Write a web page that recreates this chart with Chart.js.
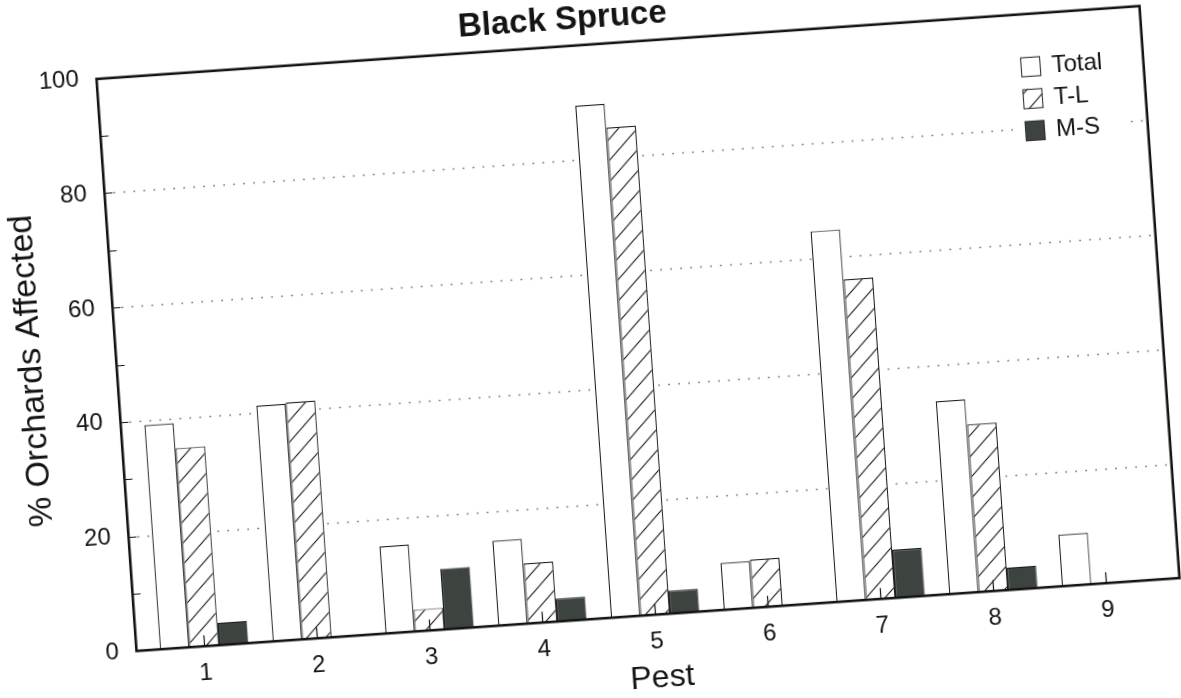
<!DOCTYPE html>
<html><head><meta charset="utf-8">
<script src="https://cdn.jsdelivr.net/npm/chart.js@4.4.0/dist/chart.umd.min.js"></script>
<style>
html,body{margin:0;padding:0;background:#fff;overflow:hidden;width:1181px;height:698px}
#wrap{position:absolute;left:0;top:0;width:1181px;height:698px;transform:rotate(-4deg);transform-origin:638px 328.5px}
canvas{display:block}
</style></head><body>
<div id="wrap"><canvas id="c" width="1181" height="698"></canvas></div>
<script>
// ---- data ----
const chartTitle = 'Black Spruce';
const xTitle = 'Pest';
const yTitle = '% Orchards Affected';
const pests = [1, 2, 3, 4, 5, 6, 7, 8, 9];
const seriesNames = ['Total', 'T-L', 'M-S'];
const totalValues = [39.2, 41.2, 15.2, 14.8, 89.5, 8.2, 64.8, 33.7, 9.0];
const tlValues    = [34.8, 41.4, 3.8, 10.5, 85.3, 8.4, 56.0, 29.3, 0];
const msValues    = [3.9, 0, 10.6, 4.0, 4.0, 0, 8.4, 3.9, 0];
const yTickLabels = [0, 20, 40, 60, 80, 100];
const yMinorTicks = [0, 10, 20, 30, 40, 50, 60, 70, 80, 90, 100];

const FONT = "'Liberation Sans', Arial, Helvetica, sans-serif";
const INK = '#141414';
const canvas = document.getElementById('c');
const ctx0 = canvas.getContext('2d');

function makeHatch() {
  const s = 20, c = document.createElement('canvas');
  c.width = c.height = s;
  const g = c.getContext('2d');
  g.fillStyle = '#ffffff'; g.fillRect(0, 0, s, s);
  g.strokeStyle = '#1c1c1c'; g.lineWidth = 1.15;
  g.beginPath();
  g.moveTo(-2, s + 2); g.lineTo(s + 2, -2);
  g.moveTo(-2, 2); g.lineTo(2, -2);
  g.moveTo(s - 2, s + 2); g.lineTo(s + 2, s - 2);
  g.stroke();
  return ctx0.createPattern(c, 'repeat');
}
const hatch = makeHatch();
const toPoints = vals => vals.map((v, i) => ({ x: pests[i], y: v }));

const framePlugin = {
  id: 'frame',
  beforeDatasetsDraw(chart) {
    const { ctx, chartArea: a, scales: { y } } = chart;
    ctx.save();
    ctx.strokeStyle = '#7c7c7c'; ctx.lineWidth = 1.5; ctx.setLineDash([1.8, 8.2]);
    yTickLabels.forEach(v => {
      if (v <= y.min || v >= y.max) return;
      const py = Math.round(y.getPixelForValue(v)) + 0.5;
      ctx.beginPath(); ctx.moveTo(a.left + 9, py); ctx.lineTo(a.right, py); ctx.stroke();
    });
    ctx.restore();
  },
  afterDatasetsDraw(chart) {
    const { ctx, chartArea: a, scales: { x, y } } = chart;
    ctx.save();
    ctx.setLineDash([]);
    ctx.strokeStyle = INK; ctx.lineWidth = 1.2;
    ctx.beginPath();
    yMinorTicks.forEach(v => {
      const py = Math.round(y.getPixelForValue(v)) + 0.5;
      ctx.moveTo(a.left, py); ctx.lineTo(a.left + 8, py);
    });
    pests.forEach(p => {
      const px = Math.round(x.getPixelForValue(p)) + 0.5;
      ctx.moveTo(px, a.bottom); ctx.lineTo(px, a.bottom - 11);
    });
    ctx.stroke();

    // legend
    const lx = a.right - 122.75, ly = a.top + 43, row = 32, box = 20;
    ctx.fillStyle = '#ffffff';
    ctx.fillRect(lx - 12, ly - 8, a.right - 18 - (lx - 12), row * 2 + box + 16);
    ctx.font = '24px ' + FONT;
    ctx.textBaseline = 'middle'; ctx.textAlign = 'left';
    chart.data.datasets.forEach((ds, i) => {
      const by = ly + i * row;
      ctx.fillStyle = ds.backgroundColor;
      ctx.fillRect(lx, by, box, box);
      ctx.strokeStyle = '#333'; ctx.lineWidth = 1.1;
      ctx.strokeRect(lx + 0.5, by + 0.5, box - 1, box - 1);
      ctx.fillStyle = INK;
      ctx.fillText(ds.label, lx + box + 11, by + box / 2 + 1);
    });

    // frame
    ctx.strokeStyle = INK; ctx.lineWidth = 2.6;
    ctx.strokeRect(a.left, a.top, a.right - a.left, a.bottom - a.top);
    ctx.restore();
  }
};

new Chart(canvas, {
  type: 'bar',
  data: {
    datasets: [
      { label: seriesNames[0], data: toPoints(totalValues), backgroundColor: '#ffffff', borderColor: '#1c1c1c', borderWidth: 1.2 },
      { label: seriesNames[1], data: toPoints(tlValues), backgroundColor: hatch, borderColor: '#1c1c1c', borderWidth: 1.2 },
      { label: seriesNames[2], data: toPoints(msValues), backgroundColor: '#3d433f', borderColor: '#1c1c1c', borderWidth: 1.2 }
    ]
  },
  options: {
    responsive: false,
    animation: false,
    devicePixelRatio: 1,
    categoryPercentage: 0.785,
    barPercentage: 1,
    layout: { padding: { left: 7.25, right: 20.25, top: 0, bottom: 0 } },
    plugins: {
      legend: { display: false },
      tooltip: { enabled: false },
      title: {
        display: true, text: chartTitle, color: INK,
        font: { family: FONT, size: 33, weight: 'bold', lineHeight: 0.94 },
        padding: { top: 0, bottom: 10.8 }
      }
    },
    scales: {
      x: {
        type: 'linear', min: 0.4, max: 9.65, offset: false,
        grid: { display: false, drawTicks: false, offset: false },
        border: { display: false },
        afterBuildTicks: s => { s.ticks = pests.map(v => ({ value: v })); },
        afterFit: s => { s.height = 82.8; },
        ticks: { font: { family: FONT, size: 24 }, color: INK, padding: 12.4, maxRotation: 0, autoSkip: false, callback: v => String(v) },
        title: { display: true, text: xTitle, color: INK, font: { family: FONT, size: 32 }, padding: { top: 0, bottom: 0 } }
      },
      y: {
        min: 0, max: 100,
        grid: { display: false, drawTicks: false },
        border: { display: false },
        afterBuildTicks: s => { s.ticks = yTickLabels.map(v => ({ value: v })); },
        afterFit: s => { s.width = 108; },
        ticks: { font: { family: FONT, size: 24 }, color: INK, padding: 17.7 },
        title: { display: true, text: yTitle, color: INK, font: { family: FONT, size: 34 }, padding: { top: 2.9, bottom: 0 } }
      }
    }
  },
  plugins: [framePlugin]
});
</script>
</body></html>
